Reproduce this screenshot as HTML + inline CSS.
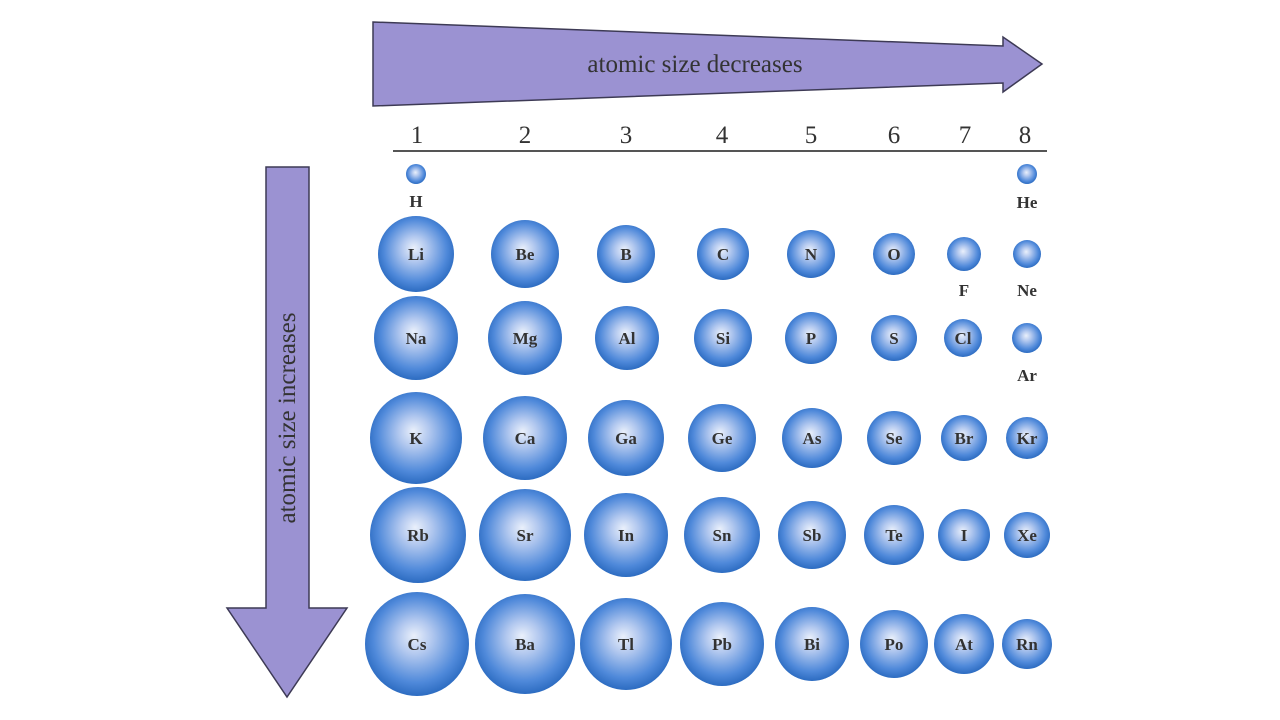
<!DOCTYPE html>
<html><head><meta charset="utf-8"><style>
html,body{margin:0;padding:0;background:#fff;}
svg{display:block;}
text{font-family:"Liberation Serif",serif;fill:#333;}
</style></head><body>
<svg width="1280" height="720" viewBox="0 0 1280 720" xmlns="http://www.w3.org/2000/svg">
<defs>
<radialGradient id="g" cx="50%" cy="47%" r="55%" fx="47%" fy="42%">
<stop offset="0" stop-color="#eaf0fb"/>
<stop offset="0.3" stop-color="#b2c8ef"/>
<stop offset="0.75" stop-color="#4f89da"/>
<stop offset="1" stop-color="#2767bd"/>
</radialGradient>
</defs>
<polygon points="373,22 1003,46 1003,37 1042,64 1003,92 1003,83 373,106" fill="#9b92d2" stroke="#3d3a55" stroke-width="1.5"/>
<text x="695" y="72" font-size="25" text-anchor="middle" fill="#222">atomic size decreases</text>
<polygon points="266,167 309,167 309,608 347,608 287,697 227,608 266,608" fill="#9b92d2" stroke="#3d3a55" stroke-width="1.5"/>
<text transform="translate(295,418) rotate(-90)" font-size="25" text-anchor="middle" fill="#222">atomic size increases</text>
<line x1="393" y1="151" x2="1047" y2="151" stroke="#555" stroke-width="2"/>
<g font-size="25" text-anchor="middle" fill="#222">
<text x="417" y="143">1</text><text x="525" y="143">2</text><text x="626" y="143">3</text><text x="722" y="143">4</text><text x="811" y="143">5</text><text x="894" y="143">6</text><text x="965" y="143">7</text><text x="1025" y="143">8</text>
</g>
<g fill="url(#g)">
<circle cx="416" cy="174" r="10"/><circle cx="1027" cy="174" r="10"/>
<circle cx="416" cy="254" r="38"/><circle cx="525" cy="254" r="34"/><circle cx="626" cy="254" r="29"/><circle cx="723" cy="254" r="26"/><circle cx="811" cy="254" r="24"/><circle cx="894" cy="254" r="21"/><circle cx="964" cy="254" r="17"/><circle cx="1027" cy="254" r="14"/>
<circle cx="416" cy="338" r="42"/><circle cx="525" cy="338" r="37"/><circle cx="627" cy="338" r="32"/><circle cx="723" cy="338" r="29"/><circle cx="811" cy="338" r="26"/><circle cx="894" cy="338" r="23"/><circle cx="963" cy="338" r="19"/><circle cx="1027" cy="338" r="15"/>
<circle cx="416" cy="438" r="46"/><circle cx="525" cy="438" r="42"/><circle cx="626" cy="438" r="38"/><circle cx="722" cy="438" r="34"/><circle cx="812" cy="438" r="30"/><circle cx="894" cy="438" r="27"/><circle cx="964" cy="438" r="23"/><circle cx="1027" cy="438" r="21"/>
<circle cx="418" cy="535" r="48"/><circle cx="525" cy="535" r="46"/><circle cx="626" cy="535" r="42"/><circle cx="722" cy="535" r="38"/><circle cx="812" cy="535" r="34"/><circle cx="894" cy="535" r="30"/><circle cx="964" cy="535" r="26"/><circle cx="1027" cy="535" r="23"/>
<circle cx="417" cy="644" r="52"/><circle cx="525" cy="644" r="50"/><circle cx="626" cy="644" r="46"/><circle cx="722" cy="644" r="42"/><circle cx="812" cy="644" r="37"/><circle cx="894" cy="644" r="34"/><circle cx="964" cy="644" r="30"/><circle cx="1027" cy="644" r="25"/>
</g>
<g font-size="17" text-anchor="middle" font-weight="bold">
<text x="416" y="207">H</text><text x="1027" y="208">He</text>
<text x="964" y="296">F</text><text x="1027" y="296">Ne</text><text x="1027" y="381">Ar</text>
<text x="416" y="260">Li</text><text x="525" y="260">Be</text><text x="626" y="260">B</text><text x="723" y="260">C</text><text x="811" y="260">N</text><text x="894" y="260">O</text>
<text x="416" y="344">Na</text><text x="525" y="344">Mg</text><text x="627" y="344">Al</text><text x="723" y="344">Si</text><text x="811" y="344">P</text><text x="894" y="344">S</text><text x="963" y="344">Cl</text>
<text x="416" y="444">K</text><text x="525" y="444">Ca</text><text x="626" y="444">Ga</text><text x="722" y="444">Ge</text><text x="812" y="444">As</text><text x="894" y="444">Se</text><text x="964" y="444">Br</text><text x="1027" y="444">Kr</text>
<text x="418" y="541">Rb</text><text x="525" y="541">Sr</text><text x="626" y="541">In</text><text x="722" y="541">Sn</text><text x="812" y="541">Sb</text><text x="894" y="541">Te</text><text x="964" y="541">I</text><text x="1027" y="541">Xe</text>
<text x="417" y="650">Cs</text><text x="525" y="650">Ba</text><text x="626" y="650">Tl</text><text x="722" y="650">Pb</text><text x="812" y="650">Bi</text><text x="894" y="650">Po</text><text x="964" y="650">At</text><text x="1027" y="650">Rn</text>
</g>
</svg>
</body></html>
